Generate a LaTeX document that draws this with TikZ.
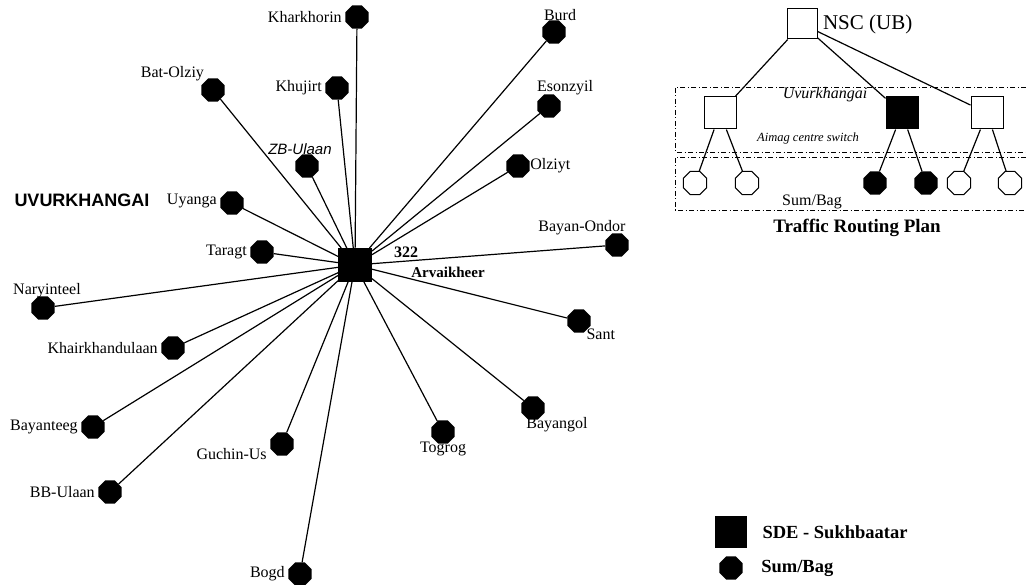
\documentclass[tikz,border=0pt]{standalone}
\usepackage{fontspec}
\setmainfont{Liberation Serif}
\setsansfont{Liberation Sans}
\usetikzlibrary{positioning,shapes.geometric}

\begin{document}
\begin{tikzpicture}[x=1pt,y=-1pt,
    dot/.style={regular polygon,regular polygon sides=8,minimum size=25pt,inner sep=0pt,fill=black},
    hollow/.style={regular polygon,regular polygon sides=8,minimum size=25pt,inner sep=0pt,draw,line width=1pt,fill=white},
    swbox/.style={rectangle,minimum size=#1,inner sep=0pt,draw,line width=1pt},
    link/.style={line width=1.2pt},
    area/.style={line width=0.8pt,dash pattern=on 5pt off 2.5pt on 1pt off 2.5pt},
    every label/.style={font=\fontsize{16}{18}\selectfont}]
      \useasboundingbox (0,0) rectangle (1026,585);

      \node[swbox=33pt,fill=black] (arvaikheer) at (355,265) {};
      \node[font=\bfseries\fontsize{16}{18}\selectfont] (code) at (406,252) {322};
      \node[font=\bfseries\fontsize{15}{17}\selectfont] (name) at (448,272) {Arvaikheer};
      \node[font=\sffamily\bfseries\fontsize{18}{20}\selectfont] (aimag) at (82,200) {UVURKHANGAI};

      \node[dot,label=left:Kharkhorin] (kharkhorin) at (357,17) {};
      \node[dot,label={[xshift=6pt,label distance=-4pt]above:Burd}] (burd) at (554,32) {};
      \node[dot,label={[xshift=16pt,label distance=-4pt]above:Esonzyil}] (esonzyil) at (549,106) {};
      \node[dot,label={[label distance=-3pt]right:Olziyt}] (olziyt) at (518,166) {};
      \node[dot,label={[label distance=-4pt]above left:Bat-Olziy}] (batolziy) at (213,90) {};
      \node[dot,label=left:Khujirt] (khujirt) at (337,88) {};
      \node[dot,label={[xshift=-7pt,label distance=-4pt,font=\sffamily\itshape\fontsize{15}{17}\selectfont]above:ZB-Ulaan}] (zbulaan) at (307,166) {};
      \node[dot,label={[yshift=2pt]left:Uyanga}] (uyanga) at (232,203) {};
      \node[dot,label=left:Taragt] (taragt) at (262,252) {};
      \node[dot,label={[xshift=4pt,label distance=-5pt]above:Naryinteel}] (naryinteel) at (43,308) {};
      \node[dot,label=left:Khairkhandulaan] (khairkhandulaan) at (173,348) {};
      \node[dot,label=left:Bayanteeg] (bayanteeg) at (93,427) {};
      \node[dot,label=left:BB-Ulaan] (bbulaan) at (110,492) {};
      \node[dot,label={[yshift=-10pt]left:Guchin-Us}] (guchinus) at (282,444) {};
      \node[dot,label=left:Bogd] (bogd) at (300,574) {};
      \node[dot,label={[label distance=-5pt]below:Togrog}] (togrog) at (443,432) {};
      \node[dot,label={[xshift=24pt,label distance=-6pt]below:Bayangol}] (bayangol) at (533,408) {};
      \node[dot,label={[label distance=-6pt]below right:Sant}] (sant) at (579,321) {};
      \node[dot,label={[xshift=-35pt,label distance=-5pt]above:Bayan-Ondor}] (bayanondor) at (617,245) {};

      \foreach \t in {kharkhorin,burd,esonzyil,olziyt,batolziy,khujirt,zbulaan,uyanga,taragt,
          naryinteel,khairkhandulaan,bayanteeg,bbulaan,guchinus,bogd,togrog,bayangol,sant,bayanondor}
        \draw[link] (arvaikheer) -- (\t);

      \draw[area] (1026,87) -| (675,152) -- (1026,152);
      \draw[area] (1026,157) -| (675,210) -- (1026,210);

      \node[swbox=30pt,fill=white] (nsc) at (802,24) {};
      \node[right=2pt of nsc,font=\fontsize{21}{24}\selectfont] (nsclabel) {NSC (UB)};
      \node[swbox=32pt,fill=white] (left) at (720,113) {};
      \node[swbox=32pt,fill=black] (sde) at (902,113) {};
      \node[swbox=32pt,fill=white] (right) at (987,113) {};
      \node[hollow] (s1) at (695,183) {};
      \node[hollow] (s2) at (747,183) {};
      \node[dot] (s3) at (875,183) {};
      \node[dot] (s4) at (926,183) {};
      \node[hollow] (s5) at (959,183) {};
      \node[hollow] (s6) at (1010,183) {};
      \foreach \t in {left,sde,right}
        \draw[link] (nsc) -- (\t);
      \draw[link] (left) -- (s1) (left) -- (s2);
      \draw[link] (sde) -- (s3) (sde) -- (s4);
      \draw[link] (right) -- (s5) (right) -- (s6);

      \node[font=\itshape\fontsize{16}{18}\selectfont] (region) at (825,95) {Uvurkhangai};
      \node[font=\itshape\fontsize{12.5}{14}\selectfont] (centre) at (808,138) {Aimag centre switch};
      \node[font=\fontsize{16}{18}\selectfont] (sumbag) at (812,202) {Sum/Bag};
      \node[font=\bfseries\fontsize{19}{21}\selectfont] (title) at (857,228) {Traffic Routing Plan};

      \node[swbox=31pt,fill=black] (sdekey) at (731,532) {};
      \node[right=12pt of sdekey,font=\bfseries\fontsize{18.5}{20}\selectfont] (sdetext) {SDE - Sukhbaatar};
      \node[dot] (sumkey) at (731,568) {};
      \node[right=15pt of sumkey,font=\bfseries\fontsize{18.5}{20}\selectfont] (sumtext) {Sum/Bag};
\end{tikzpicture}
\end{document}
